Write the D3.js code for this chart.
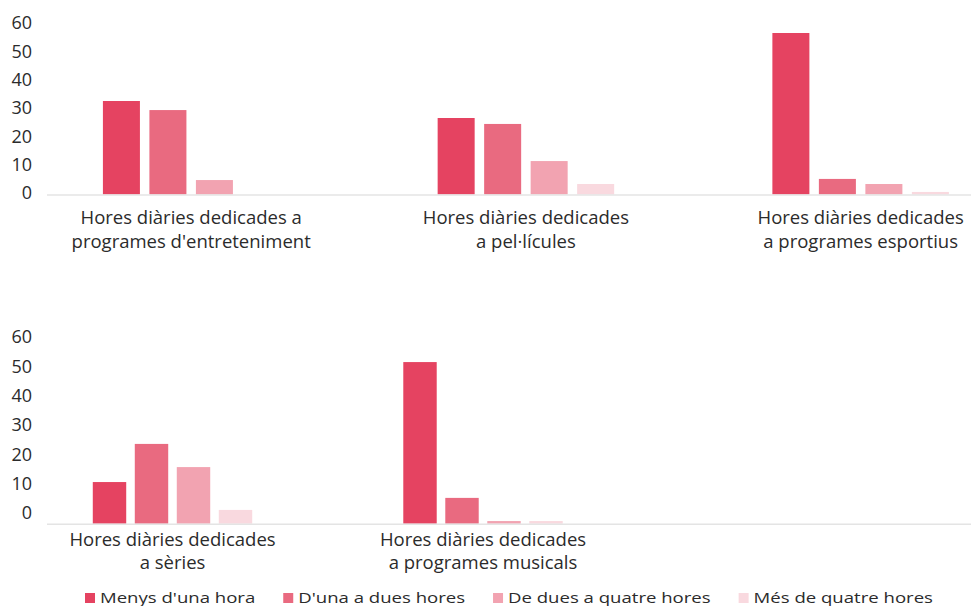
<!DOCTYPE html>
<html><head><meta charset="utf-8">
<script src="https://cdn.jsdelivr.net/npm/d3@7"></script>
<style>
body{margin:0;background:#fff}
text{font-family:"Open Sans", "Noto Sans", sans-serif;fill:#2b2b2b}
</style></head>
<body><svg id="c" width="971" height="606"></svg>
<script>
// ---- data ----
const categories = [
  "Hores diàries dedicades a programes d'entreteniment",
  "Hores diàries dedicades a pel·lícules",
  "Hores diàries dedicades a programes esportius",
  "Hores diàries dedicades a sèries",
  "Hores diàries dedicades a programes musicals"
];
const categoryLines = [
  ["Hores diàries dedicades a", "programes d'entreteniment"],
  ["Hores diàries dedicades", "a pel·lícules"],
  ["Hores diàries dedicades", "a programes esportius"],
  ["Hores diàries dedicades", "a sèries"],
  ["Hores diàries dedicades", "a programes musicals"]
];
const seriesNames = ["Menys d'una hora", "D'una a dues hores", "De dues a quatre hores", "Més de quatre hores"];
const menysDunaHora   = [33.0, 27.0, 57.0, 14.2, 55.1];
const dunaADuesHores  = [29.8, 24.9, 5.5, 27.2, 8.8];
const deDuesAQuatre   = [5.1, 11.8, 3.7, 19.3, 0.9];
const mesDeQuatre     = [0.0, 3.7, 0.9, 4.7, 0.9];
const yTicks = [0, 10, 20, 30, 40, 50, 60];
const colors = ["#e54361", "#e96a80", "#f2a3b1", "#f9d9df"];

const seriesValues = [menysDunaHora, dunaADuesHores, deDuesAQuatre, mesDeQuatre];

// ---- layout ----
const W = 971;
const svg = d3.select("#c");

const panels = [
  { cats: [0,1,2], slots: ["0","1","2"], xRange: [23.8, 1028], inner: [-93, 93],
    yRange: [194.5, 24.5], axisShift: -1.5, labelY: 29.5 },
  { cats: [3,4], slots: ["3","4","empty"], xRange: [17.25, 948.75], inner: [-84, 84],
    yRange: [523.7, 347.7], axisShift: -10.7, labelY: 22 }
];

panels.forEach(p => {
  const g = svg.append("g");
  const x0 = d3.scaleBand().domain(p.slots).range(p.xRange).padding(0);
  const x1 = d3.scaleBand().domain(d3.range(seriesNames.length)).range(p.inner)
    .paddingInner(0.204).paddingOuter(0.102);
  const y = d3.scaleLinear().domain([0, 60]).range(p.yRange);

  // y axis
  const ya = g.append("g").attr("transform", `translate(32,${p.axisShift})`)
    .call(d3.axisLeft(y).tickValues(yTicks).tickSize(0).tickPadding(0));
  ya.select(".domain").remove();
  ya.selectAll("text").style("font-size", "18px").attr("fill", "#2b2b2b")
    .style("font-family", "'Open Sans', 'Noto Sans', sans-serif");

  // bars
  p.cats.forEach(ci => {
    const cx = x0(String(ci)) + x0.bandwidth() / 2;
    g.selectAll(null).data(seriesValues.map((arr, si) => ({si, v: arr[ci]})))
      .enter().append("rect")
      .attr("x", d => cx + x1(d.si))
      .attr("width", x1.bandwidth())
      .attr("y", d => y(d.v))
      .attr("height", d => y(0) - y(d.v))
      .attr("fill", d => colors[d.si]);

    const t = g.append("text").attr("text-anchor", "middle")
      .attr("x", cx).attr("y", y(0) + p.labelY).style("font-size", "18.5px");
    categoryLines[ci].forEach((line, li) => {
      t.append("tspan").attr("x", cx).attr("dy", li === 0 ? 0 : 23.5).text(line);
    });
  });

  // baseline
  g.append("line").attr("x1", 47).attr("x2", W)
    .attr("y1", y(0) + 0.5).attr("y2", y(0) + 0.5)
    .attr("stroke", "#e4e4e4").attr("stroke-width", 1.5);
});

// legend (text drawn slightly wide, as in the reference)
const legStretch = 1.28;
const leg = svg.append("g").attr("transform", "translate(85,593)");
let lx = 0;
seriesNames.forEach((name, i) => {
  const it = leg.append("g").attr("transform", `translate(${lx},0)`);
  it.append("rect").attr("width", 10).attr("height", 10).attr("fill", colors[i]);
  const tx = it.append("text").attr("x", 15).attr("y", 10).style("font-size", "14.5px").text(name);
  const w = tx.node().getComputedTextLength() * legStretch;
  tx.attr("textLength", w).attr("lengthAdjust", "spacingAndGlyphs");
  lx += 15 + w + 28;
});
</script>
</body></html>
